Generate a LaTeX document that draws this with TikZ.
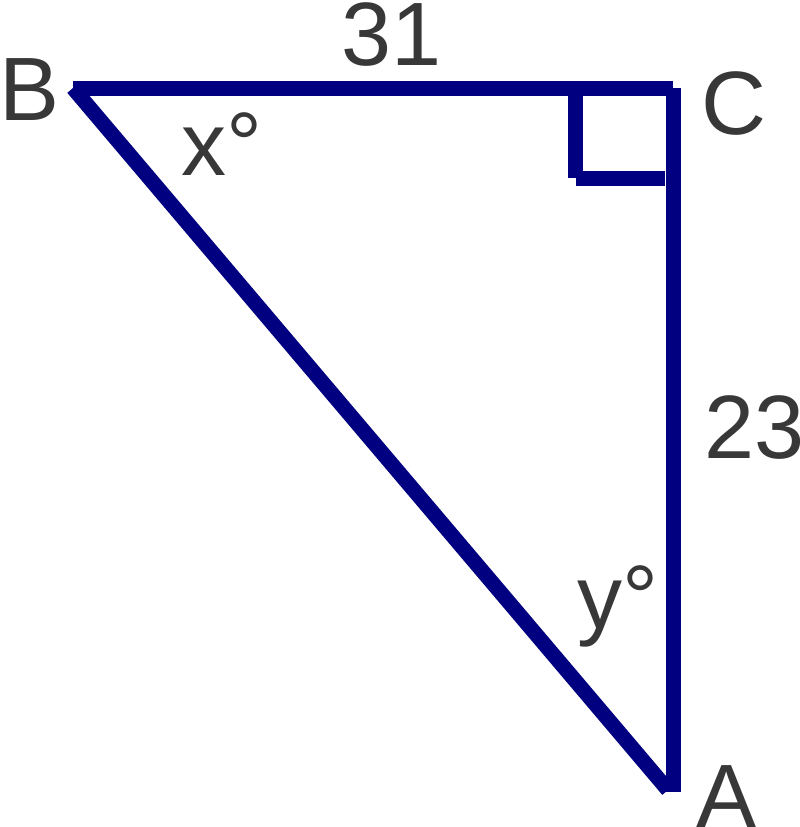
\documentclass[tikz,border=0pt]{standalone}
\usepackage{fontspec}
\setmainfont{Liberation Sans}
\usetikzlibrary{calc,positioning}
\definecolor{navyline}{RGB}{0,0,128}
\definecolor{labelgray}{RGB}{56,56,56}

\begin{document}
\begin{tikzpicture}[x=1pt,y=-1pt,
    side/.style={draw=navyline,line width=15pt,line cap=butt},
    lbl/.style={text=labelgray,inner sep=0pt,anchor=base,font=\fontsize{90}{100}\selectfont}]
    \useasboundingbox (0,0) rectangle (800,827);
    \coordinate (B) at (73,88);
    \coordinate (C) at (673,88);
    \coordinate (A) at (673,792);
    \coordinate (hypB) at (73,88);
    \coordinate (hypA) at (668,790);
    \coordinate (sq_top) at (575,88);
    \coordinate (sq_corner) at (575,178);
    \coordinate (sq_right) at (665,178);
    %
    \draw[side] (B) -- (C);
    \draw[side] (C) -- (A);
    \draw[side] (hypB) -- (hypA);
    \draw[side] (sq_top) -- (sq_corner);
    \draw[side] ($(sq_corner)+(1,0)$) -- (sq_right);
    %
    \node[lbl] (lbl_b) at (30,120) {B};
    \node[lbl] (lbl_c) at (734,134) {C};
    \node[lbl] (lbl_a) at (727,827) {A};
    \node[lbl] (lbl_bc) at (392,65) {31};
    \node[lbl] (lbl_ca) at (755,458) {23};
    \node[lbl] (lbl_x) at (222,175) {x°};
    \node[lbl] (lbl_y) at (618,628) {y°};
\end{tikzpicture}
\end{document}
